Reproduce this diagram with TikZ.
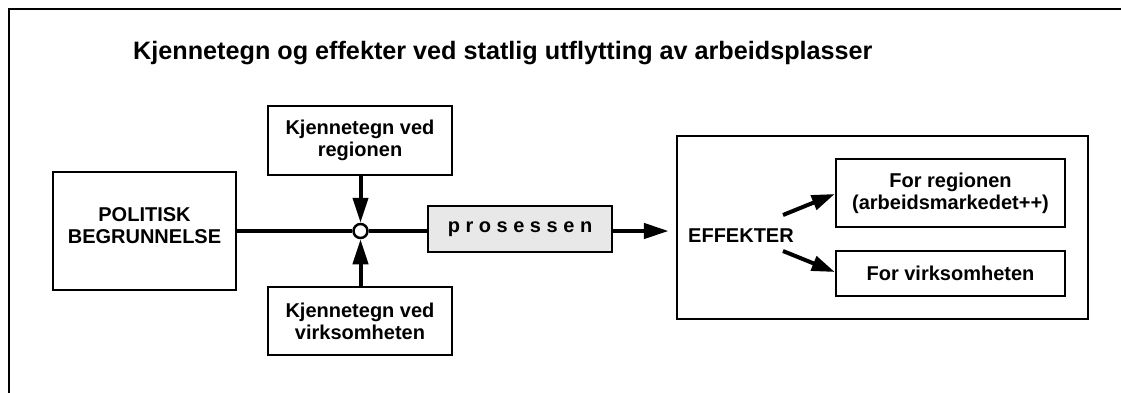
\documentclass[tikz,border=0pt]{standalone}
\usepackage{fontspec}
\setmainfont{Liberation Sans}
\usetikzlibrary{arrows.meta}
\tikzset{
  box/.style={draw=black, line width=2.4pt, fill=white, align=center, inner sep=0pt,
    font=\fontsize{20}{22}\selectfont\bfseries},
  procbox/.style={box, fill=black!9},
  mainline/.style={line width=4.5pt},
  bigarrow/.style={line width=4.5pt, -{Triangle[length=25pt, width=15pt]}},
  vertarrow/.style={line width=4pt, -{Triangle[length=25pt, width=15pt]}},
  diagarrow/.style={line width=4pt, -{Triangle[length=23pt, width=15pt]}},
}
\begin{document}
\begin{tikzpicture}[x=1pt, y=-1pt]
  \useasboundingbox (0,0) rectangle (1121,392);
  % outer frame, open to the right and below
  \draw[line width=2.4pt] (9,400) -- (9,9) -- (1130,9);

  % heading
  \node[anchor=base west, inner sep=0pt, font=\fontsize{25.2}{29}\selectfont\bfseries]
    (title) at (133,59) {Kjennetegn og effekter ved statlig utflytting av arbeidsplasser};

  % left side: justification, characteristics and process
  \node[box, minimum width=183pt, minimum height=118pt] (pol) at (144.5,231) {};
  \node[align=center, inner sep=0pt, font=\fontsize{20}{22}\selectfont\bfseries]
    (poltxt) at (144.5,225.5) {POLITISK\\BEGRUNNELSE};
  \node[box, minimum width=184pt, minimum height=69pt] (reg) at (360,140.5)
    {Kjennetegn ved\\regionen};
  \node[box, minimum width=184pt, minimum height=68pt] (virk) at (360,321)
    {Kjennetegn ved\\virksomheten};
  \node[draw, circle, line width=2.5pt, minimum size=14pt, inner sep=0pt] (junc) at (360.5,231) {};
  \node[procbox, minimum width=184pt, minimum height=46pt] (proc) at (520,229)
    {p r o s e s s e n};

  % right side: effects
  \node[box, minimum width=411pt, minimum height=183pt] (eff) at (882.5,227.5) {};
  \node[anchor=west, inner sep=0pt, font=\fontsize{20}{22}\selectfont\bfseries]
    (efftxt) at (688,236) {EFFEKTER};
  \node[box, minimum width=229pt, minimum height=68pt] (effreg) at (950.5,193)
    {For regionen\\(arbeidsmarkedet++)};
  \node[box, minimum width=229pt, minimum height=45pt] (effvirk) at (950.5,273.5)
    {For virksomheten};

  % connectors
  \draw[mainline] (pol.east |- junc) -- (junc.west);
  \draw[mainline] (junc.east) -- (proc.west |- junc);
  \draw[bigarrow] (proc.east |- junc) -- ([xshift=-7pt]eff.west |- junc);
  \draw[vertarrow] (reg.south -| junc) -- (junc.north);
  \draw[vertarrow] (virk.north -| junc) -- (junc.south);
  \coordinate (up) at (783,215);
  \coordinate (down) at (783,251);
  \draw[diagarrow] (up) -- (effreg.west |- 0,194);
  \draw[diagarrow] (down) -- (effvirk.west |- 0,272);
\end{tikzpicture}
\end{document}
